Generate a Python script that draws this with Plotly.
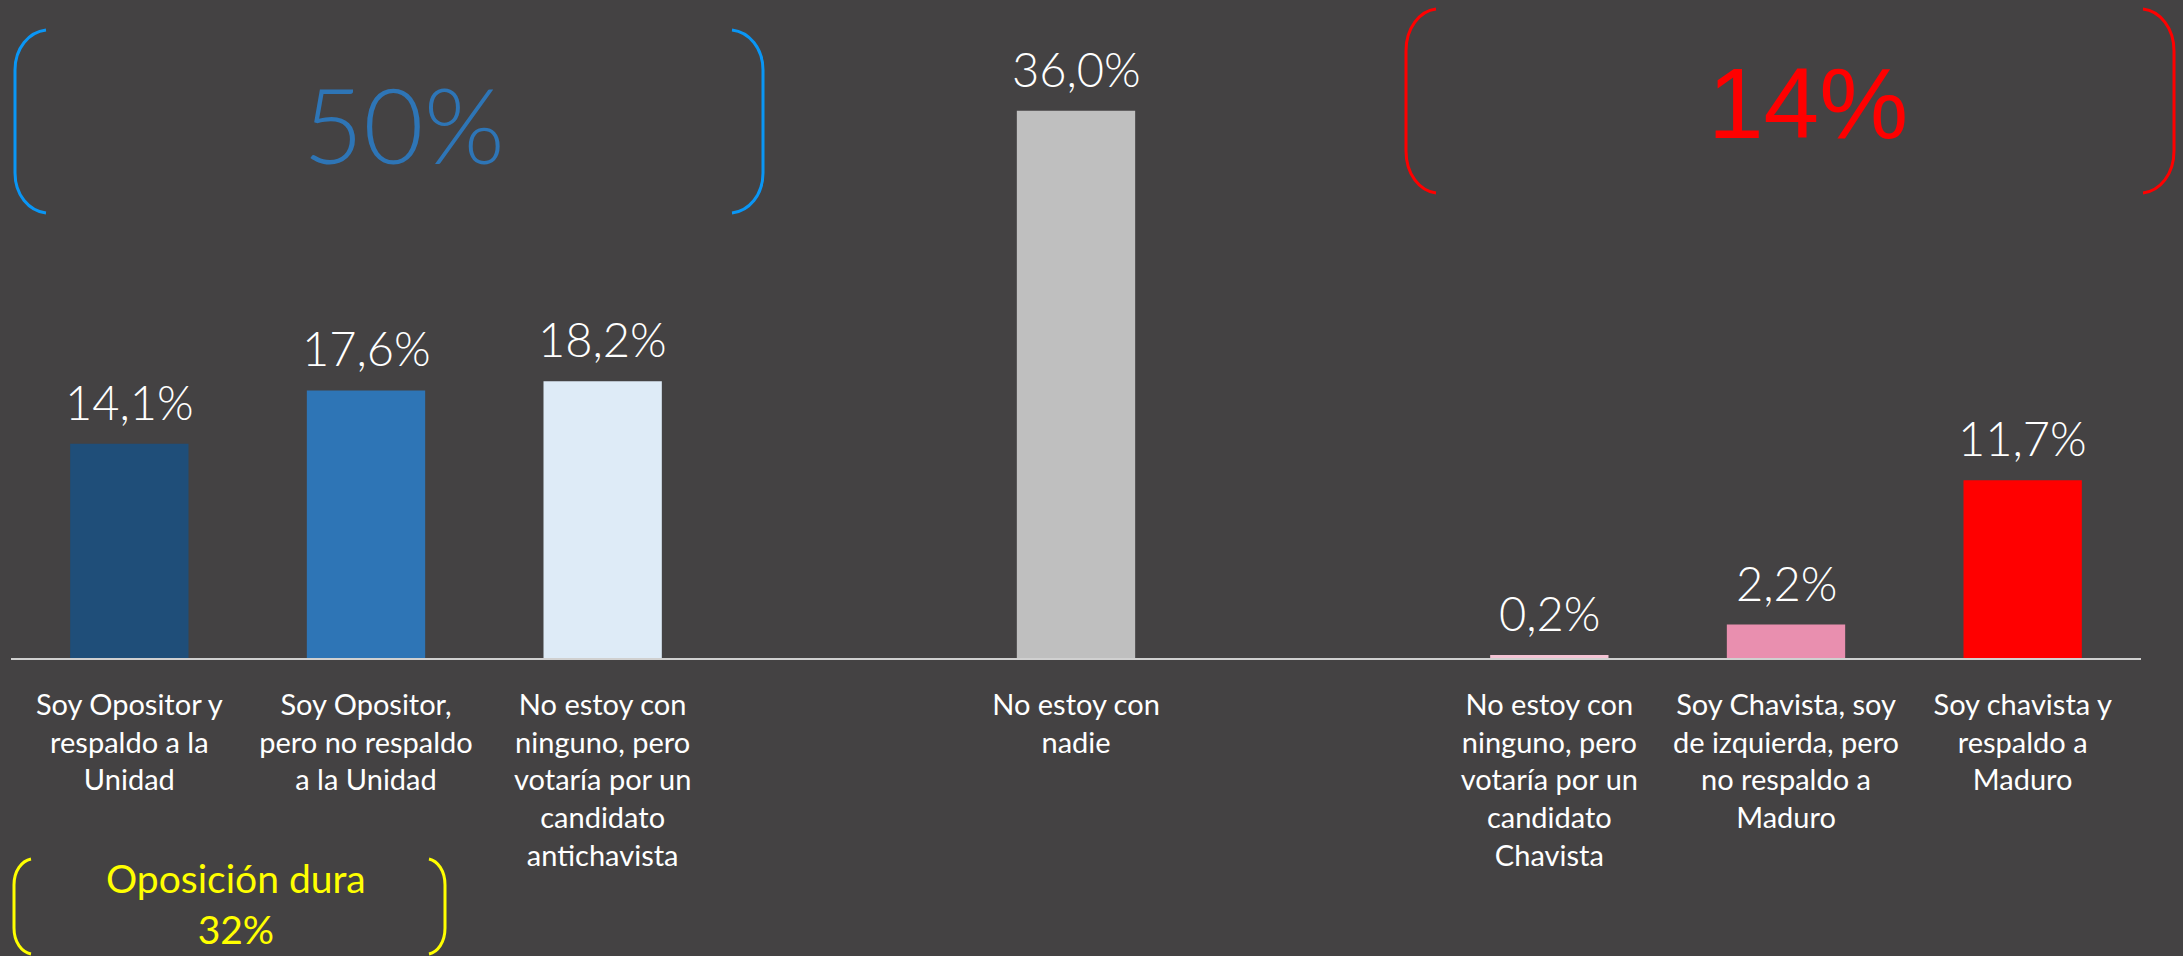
import plotly.graph_objects as go

# ---- data ----
categories = [
    "Soy Opositor y<br>respaldo a la<br>Unidad",
    "Soy Opositor,<br>pero no respaldo<br>a la Unidad",
    "No estoy con<br>ninguno, pero<br>votaría por un<br>candidato<br>antichavista",
    "No estoy con<br>nadie",
    "No estoy con<br>ninguno, pero<br>votaría por un<br>candidato<br>Chavista",
    "Soy Chavista, soy<br>de izquierda, pero<br>no respaldo a<br>Maduro",
    "Soy chavista y<br>respaldo a<br>Maduro",
]
values = [14.1, 17.6, 18.2, 36.0, 0.2, 2.2, 11.7]
bar_colors = ["#1F4E79", "#2E75B6", "#DEEBF7", "#BFBFBF", "#F4C3D4", "#E98FAF", "#FF0000"]
# display order with empty spacer slots
axis_order = [categories[0], categories[1], categories[2], " ",
              categories[3], "  ", categories[4], categories[5], categories[6]]

group_opos_total = "50%"
group_chav_total = "14%"
hard_opos_label = "Oposición dura<br>32%"

# ---- layout geometry (pixels) ----
W, H = 2183, 956
PL, PR = 11, 2141      # plot area left/right
PT, PB = 0, 658        # plot area top/bottom (baseline)
BG = "#444243"
FONT = "Lato"


def px(x):
    return (x - PL) / (PR - PL)


def py(y):
    return (PB - y) / (PB - PT)


def bracket(x_end, x_edge, y_top, y_bot, r):
    """SVG path (paper coords) of a rounded bracket."""
    dx = x_end - x_edge
    p = (f"M {px(x_end)},{py(y_top)} "
         f"C {px(x_edge + dx*0.45)},{py(y_top + 2)} {px(x_edge)},{py(y_top + r*0.45)} {px(x_edge)},{py(y_top + r)} "
         f"L {px(x_edge)},{py(y_bot - r)} "
         f"C {px(x_edge)},{py(y_bot - r*0.45)} {px(x_edge + dx*0.45)},{py(y_bot - 2)} {px(x_end)},{py(y_bot)}")
    return p


fig = go.Figure(
    go.Bar(
        x=categories,
        y=values,
        marker=dict(color=bar_colors, line=dict(width=0)),
        width=0.5,
        hoverinfo="skip",
    )
)

shapes = []
blue = "#0A96F5"
red = "#FF0000"
yellow = "#FFFF00"
for path, col in [
    (bracket(46, 15, 30, 213, 40), blue),
    (bracket(732, 763, 30, 213, 40), blue),
    (bracket(1436, 1406, 9, 193, 42), red),
    (bracket(2143, 2174, 9, 193, 42), red),
    (bracket(31, 14, 859, 954, 26), yellow),
    (bracket(429, 445, 859, 954, 26), yellow),
]:
    shapes.append(dict(type="path", path=path, xref="paper", yref="paper",
                       line=dict(color=col, width=3)))

annotations = [
    dict(text=f"{v:.1f}%".replace(".", ","), x=c, y=v, xref="x", yref="y",
         showarrow=False, xanchor="center", yanchor="bottom", yshift=12,
         font=dict(family=FONT, size=47, color="white", weight=300))
    for c, v in zip(categories, values)
]
annotations += [
    dict(text=group_opos_total, x=px(404), y=py(124), xref="paper", yref="paper",
         showarrow=False, xanchor="center", yanchor="middle",
         font=dict(family=FONT, size=104, color="#2E75B6", weight=300)),
    dict(text=group_chav_total, x=px(1808), y=py(103), xref="paper", yref="paper",
         showarrow=False, xanchor="center", yanchor="middle",
         font=dict(family="Liberation Sans", size=100, color=red)),
    dict(text=hard_opos_label, x=px(236), y=py(853), xref="paper", yref="paper",
         showarrow=False, xanchor="center", yanchor="top",
         font=dict(family=FONT, size=39, color=yellow)),
]

fig.update_layout(
    width=W, height=H,
    margin=dict(l=PL, r=W - PR, t=PT, b=H - PB, pad=0),
    paper_bgcolor=BG, plot_bgcolor=BG,
    showlegend=False,
    bargap=0.5,
    shapes=shapes,
    annotations=annotations,
    xaxis=dict(
        type="category", categoryorder="array", categoryarray=axis_order,
        range=[-0.5, len(axis_order) - 0.5],
        showline=True, linecolor="#D0D0D0", linewidth=2,
        showgrid=False, zeroline=False, ticks="",
        ticklabelstandoff=20,
        tickfont=dict(family=FONT, size=29, color="white"),
        fixedrange=True,
    ),
    yaxis=dict(
        range=[0, (PB - PT) / 15.2], visible=False, showgrid=False,
        zeroline=False, fixedrange=True,
    ),
)

fig.write_html(
    "out.html",
    config={"displayModeBar": False},
    post_script="document.body.style.margin='0';document.body.style.background='#444243';document.body.style.overflow='hidden';",
)
